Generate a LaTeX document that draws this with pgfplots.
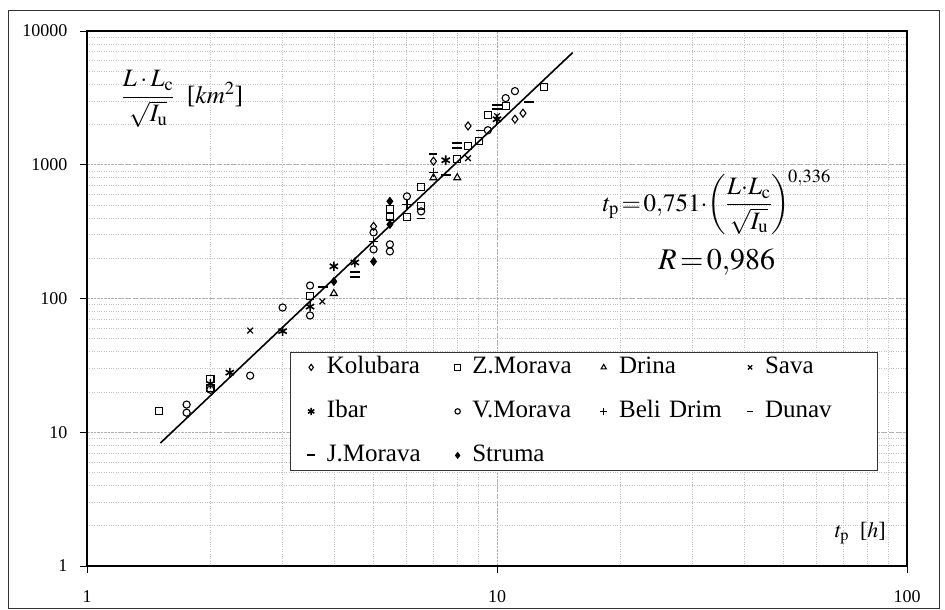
\documentclass[border=0pt]{standalone}
\usepackage{mathptmx}
\usepackage[no-math]{fontspec}
\setmainfont{Liberation Serif}
\usepackage{pgfplots}
\pgfplotsset{compat=1.18}
\begin{document}
\begin{tikzpicture}[font=\fontsize{18}{21}\selectfont]
\path[use as bounding box] (0,0) rectangle (945pt,610pt);
\draw[gray!40!black, line width=0.9pt] (8pt,2pt) rectangle (939pt,600pt);
\begin{loglogaxis}[
  at={(87pt,44pt)}, anchor=south west,
  scale only axis, width=820pt, height=535pt,
  xmin=1, xmax=100, ymin=1, ymax=10000,
  axis line style={line width=2.2pt},
  xtick={1,10,100}, xticklabels={1,10,100},
  ytick={1,10,100,1000,10000}, yticklabels={1,10,100,1000,10000},
  xticklabel style={font=\fontsize{18}{21}\selectfont, yshift=-14pt},
  yticklabel style={font=\fontsize{18}{21}\selectfont, xshift=-9pt},
  tick align=outside, tick pos=left,
  major tick length=7pt, minor tick length=0pt,
  tick style={line width=0.8pt, black},
  grid=both,
  major grid style={gray!65, dash pattern=on 2pt off 1.5pt, line width=0.7pt},
  minor grid style={gray!50, dotted, line width=0.6pt},
  legend columns=4,
  legend cell align=left,
  legend image code/.code={\draw[#1, every mark/.append style={scale=0.75}] plot coordinates {(0pt,0pt)};},
  legend style={at={(0.2476,0.4)}, anchor=north west,
    draw=gray!40!black, line width=0.8pt, fill=white,
    inner xsep=17pt, inner ysep=4pt, row sep=22pt,
    font=\fontsize{25}{30}\selectfont,
    nodes={inner xsep=0pt, inner ysep=0pt, text height=17pt, text depth=5pt, text width=128pt, align=left},
    /tikz/every odd column/.append style={column sep=12pt},
    /tikz/column 8/.style={nodes={text width=95pt}}},
]
% fitted line t_p = 0,751 (L Lc / sqrt(Iu))^0,336
\addplot[black, line width=1.6pt, forget plot] coordinates {(1.51,8.3) (15.3,6900)};
% Kolubara
\addplot[only marks, mark=diamond, mark size=4pt, line width=1.1pt, black]
  coordinates {(5.0,346) (7.0,1063) (8.5,1950) (11.06,2190) (11.57,2430)};
\addlegendentry{Kolubara}
% Z.Morava
\addplot[only marks, mark=square, mark size=3.6pt, line width=1.1pt, black]
  coordinates {(1.5,14.5) (2.0,25) (2.0,21.5) (3.5,105) (5.48,464) (5.48,411)
    (6.03,405) (6.53,678) (6.53,489) (8.0,1099) (8.5,1376) (9.04,1500)
    (9.5,2350) (10.5,2742) (13.0,3803)};
\addlegendentry{Z.Morava}
% Drina
\addplot[only marks, mark=triangle, mark size=4pt, line width=1.1pt, black]
  coordinates {(4.0,109) (8.0,800) (7.0,800)};
\addlegendentry{Drina}
% Sava
\addplot[only marks, mark=x, mark size=4pt, line width=1.2pt, black]
  coordinates {(2.5,57.6) (3.75,95) (8.5,1118) (10.0,2310)};
\addlegendentry{Sava}
% Ibar
\addplot[only marks, mark=asterisk, mark size=4.8pt, line width=1.6pt, black]
  coordinates {(2.0,23) (2.23,27.9) (3.0,57) (3.5,87) (4.0,174) (4.5,186)
    (7.5,1081) (10.0,2190)};
\addlegendentry{Ibar}
% V.Morava
\addplot[only marks, mark=o, mark size=3.6pt, line width=1.1pt, black]
  coordinates {(1.75,16.1) (1.75,14) (2.0,20.8) (2.5,26.5) (3.0,85.6) (3.5,125)
    (3.5,74.6) (5.0,312) (5.0,233) (5.48,254) (5.48,225) (6.03,580) (6.53,448)
    (9.5,1812) (10.5,3150) (11.06,3553)};
\addlegendentry{V.Morava}
% Beli Drim
\addplot[only marks, mark=+, mark size=4.5pt, line width=1.2pt, black]
  coordinates {(5.0,267) (6.03,506) (7.0,870)};
\addlegendentry{Beli Drim}
% Dunav
\addplot[only marks, mark=-, mark size=4pt, line width=1.5pt, black]
  coordinates {(6.53,398) (7.0,1200) (9.1,1800)};
\addlegendentry{Dunav}
% J.Morava
\addplot[only marks, mark=-, mark size=5pt, line width=2pt, black]
  coordinates {(3.76,122) (4.5,159) (4.5,144) (7.5,834) (8.0,1449) (8.0,1330)
    (10.0,2800) (10.0,2600) (12.0,2940)};
\addlegendentry{J.Morava}
% Struma
\addplot[only marks, mark=diamond*, mark size=4pt, line width=0.8pt, black, fill=black]
  coordinates {(4.0,134) (5.0,189) (5.48,533) (5.48,358)};
\addlegendentry{Struma}
% labels
\node[anchor=west, font=\fontsize{25}{30}\selectfont] at (axis description cs:0.038,0.873)
  {$\displaystyle\frac{L\cdot L_{\mathrm c}}{\sqrt{I_{\mathrm u}}}$\ \ [$km^2$]};
\node[font=\fontsize{25}{30}\selectfont] at (axis description cs:0.768,0.68)
  {$\displaystyle t_{\mathrm p}\!=\!0{,}751{\cdot}\!\left(\frac{L{\cdot}L_{\mathrm c}}{\sqrt{I_{\mathrm u}}}\right)^{\!0{,}336}$};
\node[font=\fontsize{30}{36}\selectfont] at (axis description cs:0.768,0.568)
  {$R\!=\!0{,}986$};
\node[font=\fontsize{22}{26}\selectfont] at (axis description cs:0.943,0.062)
  {$t_{\mathrm p}$\ \ [$h$]};
\end{loglogaxis}
\end{tikzpicture}
\end{document}
